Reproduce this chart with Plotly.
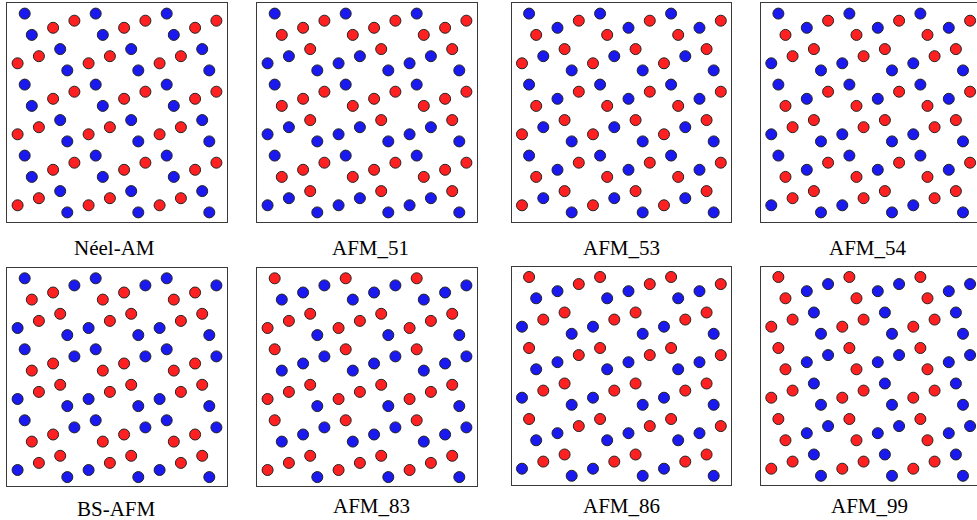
import plotly.graph_objects as go

# ---- data -------------------------------------------------------------
panel_names = ["Néel-AM", "AFM_51", "AFM_53", "AFM_54",
               "BS-AFM", "AFM_83", "AFM_86", "AFM_99"]

# atom lattice positions (grid units), 24 rows x 3 atoms
atom_x = [3, 13, 23, 10, 20, 30, 7, 17, 27, 4, 14, 24,
          8, 18, 28, 5, 15, 25, 2, 12, 22, 9, 19, 29,
          3, 13, 23, 10, 20, 30, 7, 17, 27, 4, 14, 24,
          8, 18, 28, 5, 15, 25, 2, 12, 22, 9, 19, 29,
          3, 13, 23, 10, 20, 30, 7, 17, 27, 4, 14, 24,
          8, 18, 28, 5, 15, 25, 2, 12, 22, 9, 19, 29]
atom_y = [2, 2, 2, 3, 3, 3, 4, 4, 4, 5, 5, 5,
          7, 7, 7, 8, 8, 8, 9, 9, 9, 10, 10, 10,
          12, 12, 12, 13, 13, 13, 14, 14, 14, 15, 15, 15,
          17, 17, 17, 18, 18, 18, 19, 19, 19, 20, 20, 20,
          22, 22, 22, 23, 23, 23, 24, 24, 24, 25, 25, 25,
          27, 27, 27, 28, 28, 28, 29, 29, 29, 30, 30, 30]

# spin of each row of atoms (U = red, D = blue), 24 rows per panel
row_spins = {
    "Néel-AM": "DUUDDUUDDUUDDUUDDUUDDUUD",
    "AFM_51":  "DUUUUDDDDUUUUDDDDUUUUDDD",
    "AFM_53":  "DUDUUDUDDUDUUDUDDUDUUDUD",
    "AFM_54":  "DUDUUUDDDUDUUUDDDUDUUUDD",
    "BS-AFM":  "DDUUUUDDDDUUUUDDDDUUUUDD",
    "AFM_83":  "UDDDUUUDUDDDUUUDUDDDUUUD",
    "AFM_86":  "UUDDUUDDUUDDUUDDUUDDUUDD",
    "AFM_99":  "UDDUDUUDUDDUDUUDUDDUDUUD",
}

# ---- layout -----------------------------------------------------------
W, H = 977, 520
# panel boxes in pixels: (left, right, top, bottom)
boxes = [
    (7.3, 226.7, 3.3, 221.7), (257.3, 476.7, 3.3, 221.7),
    (511.7, 730.7, 3.3, 222.0), (761.0, 977.0, 3.3, 221.7),
    (7.3, 226.7, 268.0, 486.0), (257.3, 476.7, 268.0, 486.0),
    (511.7, 730.7, 266.7, 484.7), (761.0, 977.0, 266.7, 484.7),
]
label_x = [114, 370, 621, 868, 116, 371, 621, 869]
label_y = [248, 248, 248, 248, 509, 506, 506, 506]
PX_PER_UNIT = 7.1
X0 = 0.55

RED = "#ff2121"
BLUE = "#1a1af0"

fig = go.Figure()
layout = dict(width=W, height=H, margin=dict(l=0, r=0, t=0, b=0, pad=0),
              paper_bgcolor="white", plot_bgcolor="white",
              showlegend=False)
annotations = []

for k, name in enumerate(panel_names):
    l, r, t, b = boxes[k]
    spins = row_spins[name]
    colors = [RED if spins[i // 3] == "U" else BLUE for i in range(len(atom_x))]
    ax = "" if k == 0 else str(k + 1)
    fig.add_trace(go.Scatter(
        x=atom_x, y=atom_y, mode="markers",
        marker=dict(size=11, color=colors, line=dict(color="#222222", width=1)),
        xaxis="x" + ax, yaxis="y" + ax, hoverinfo="skip", cliponaxis=False))
    full = (r - l) > 217
    x_hi = X0 + (r - l) / PX_PER_UNIT
    y_hi = X0 + (b - t) / PX_PER_UNIT
    layout["xaxis" + ax] = dict(
        domain=[l / W, r / W], range=[X0, x_hi], anchor="y" + ax,
        showgrid=False, zeroline=False, showticklabels=False, ticks="",
        showline=True, mirror=True, linecolor="#3a3a3a", linewidth=1.3,
        fixedrange=True)
    layout["yaxis" + ax] = dict(
        domain=[1 - b / H, 1 - t / H], range=[y_hi, X0], anchor="x" + ax,
        showgrid=False, zeroline=False, showticklabels=False, ticks="",
        showline=True, mirror=full, linecolor="#3a3a3a", linewidth=1.3,
        fixedrange=True)
    annotations.append(dict(
        text=name, x=label_x[k] / W, y=1 - label_y[k] / H,
        xref="paper", yref="paper",
        xanchor="center", yanchor="middle", showarrow=False,
        font=dict(family="Liberation Serif", size=21, color="black")))

layout["annotations"] = annotations
fig.update_layout(**layout)
fig.write_html(
    "out.html",
    config={"displayModeBar": False},
    post_script="document.body.style.margin='0';document.body.style.overflow='hidden';")
